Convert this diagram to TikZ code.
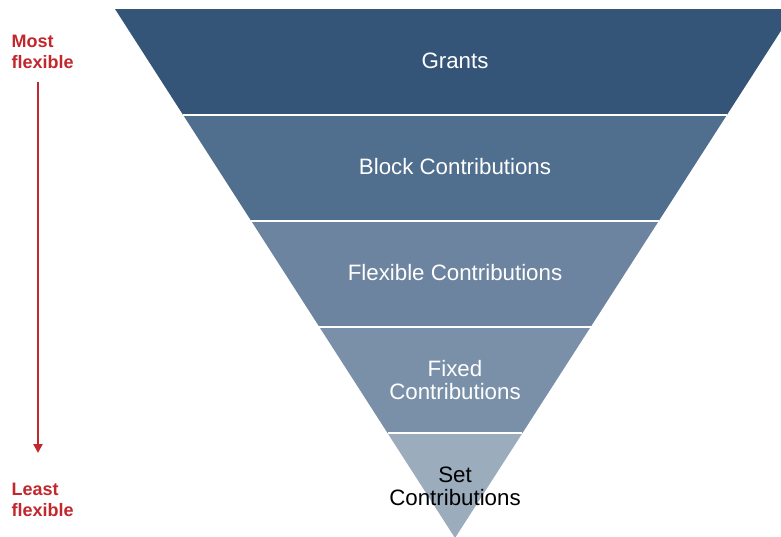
\documentclass[tikz,border=0pt]{standalone}
\usepackage{fontspec}
\setmainfont{Liberation Sans}
\usetikzlibrary{arrows.meta}
\definecolor{bandA}{HTML}{345578}
\definecolor{bandB}{HTML}{506E8D}
\definecolor{bandC}{HTML}{6C849F}
\definecolor{bandD}{HTML}{7A90A9}
\definecolor{bandE}{HTML}{9BACBD}
\definecolor{accent}{HTML}{C1272D}
\begin{document}
\begin{tikzpicture}[x=1pt,y=-1pt,
  bandtext/.style={text=white,font=\fontsize{22.3}{23}\selectfont,align=center},
  sidelabel/.style={text=accent,font=\fontsize{18}{21.5}\selectfont\bfseries,align=left,anchor=west},
  sep/.style={draw=white,line width=1.2pt}]
\useasboundingbox (0,0) rectangle (781,536);
\clip (0,0) rectangle (781,536);
% funnel: apex (455,538), top edge y=9, half-width 340 at the top
\def\apx{455}\def\apy{538}
\foreach \ya/\yb/\c in {9/115/bandA,115/221/bandB,221/327/bandC,327/433/bandD,433/538/bandE}{
  \pgfmathsetmacro{\wa}{(\apy-\ya)/529*340}
  \pgfmathsetmacro{\wb}{(\apy-\yb)/529*340}
  \fill[\c] (\apx-\wa,\ya) -- (\apx+\wa,\ya) -- (\apx+\wb,\yb) -- (\apx-\wb,\yb) -- cycle;
}
\foreach \y in {115,221,327,433}{
  \pgfmathsetmacro{\w}{(\apy-\y)/529*340}
  \draw[sep] (\apx-\w,\y) -- (\apx+\w,\y);
}
\node[bandtext] (grants) at (455,61) {Grants};
\node[bandtext] (block) at (455,167) {Block Contributions};
\node[bandtext] (flex) at (455,273) {Flexible Contributions};
\node[bandtext] (fixed) at (455,380) {Fixed\\Contributions};
\node[bandtext,text=black] (set) at (455,486) {Set\\Contributions};
\node[sidelabel] (most) at (8,52) {Most\\flexible};
\node[sidelabel] (least) at (8,500) {Least\\flexible};
\coordinate (top) at (38,82);
\coordinate (bot) at (38,453);
\draw[accent,line width=2.5pt,-{Triangle[length=9pt,width=9pt]}] (top) -- (bot);
\end{tikzpicture}
\end{document}
